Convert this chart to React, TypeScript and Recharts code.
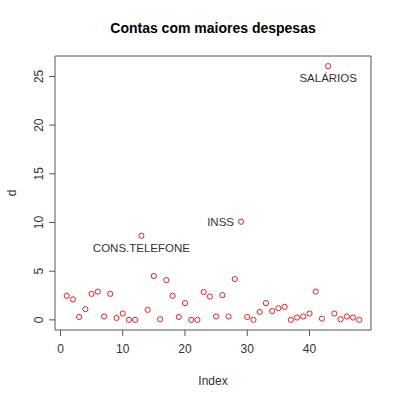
import React from 'react';
import { ScatterChart, Scatter, XAxis, YAxis, ReferenceArea } from 'recharts';

// valores (d), em ordem de indice
const despesas = [
  2.47, 2.1, 0.3, 1.1, 2.67, 2.9, 0.35, 2.67, 0.2, 0.65,
  0, 0, 8.64, 1.03, 4.5, 0.07, 4.08, 2.47, 0.3, 1.72,
  0, 0, 2.85, 2.4, 0.35, 2.54, 0.35, 4.19, 10.08, 0.3,
  0, 0.82, 1.72, 0.9, 1.2, 1.34, 0, 0.24, 0.35, 0.65,
  2.9, 0.13, 26.06, 0.65, 0.07, 0.35, 0.24, 0,
];

// contas destacadas
const destaqueIndices = [13, 29, 43];
const destaqueNomes = ['CONS.TELEFONE', 'INSS', 'SALÁRIOS'];

const xTicks = [0, 10, 20, 30, 40];
const yTicks = [0, 5, 10, 15, 20, 25];

const xDomain: [number, number] = [-0.88, 49.88];
const yDomain: [number, number] = [-1.04, 27.1];

const FONT = '"Liberation Sans", Arial, sans-serif';
const RED = '#e02020';

const data = despesas.map((d, i) => {
  const k = destaqueIndices.indexOf(i + 1);
  return { index: i + 1, d, nome: k >= 0 ? destaqueNomes[k] : '' };
});

const PointShape = (props: any) => {
  const { cx, cy, payload } = props;
  let label = null;
  if (payload.nome) {
    if (payload.nome === 'INSS') {
      label = (
        <text x={cx - 7} y={cy} textAnchor="end" dominantBaseline="central" fontSize={11.5} fill="#333" fontFamily={FONT}>
          {payload.nome}
        </text>
      );
    } else {
      label = (
        <text x={cx} y={cy + 12} textAnchor="middle" dominantBaseline="central" fontSize={11.5} fill="#333" fontFamily={FONT}>
          {payload.nome}
        </text>
      );
    }
  }
  return (
    <g>
      <circle cx={cx} cy={cy} r={2.6} fill="none" stroke={RED} strokeWidth={1} />
      {label}
    </g>
  );
};

const YTick = (props: any) => {
  const { x, y, payload } = props;
  return (
    <text transform={`translate(${x - 4},${y}) rotate(-90)`} textAnchor="middle" fontSize={12} fill="#333" fontFamily={FONT}>
      {payload.value}
    </text>
  );
};

const App: React.FC = () => {
  return (
    <div style={{ position: 'absolute', left: 0, top: 0, width: 400, height: 399, background: '#fff' }}>
      <div
        style={{
          position: 'absolute', left: 55, width: 316, top: 19, textAlign: 'center',
          fontFamily: FONT, fontWeight: 'bold', fontSize: 14, color: '#000', lineHeight: '18px',
        }}
      >
        Contas com maiores despesas
      </div>
      <ScatterChart width={400} height={399} margin={{ top: 56, right: 29, left: 0, bottom: 0 }}>
        <XAxis
          type="number"
          dataKey="index"
          domain={xDomain}
          ticks={xTicks}
          allowDataOverflow
          axisLine={false}
          tickSize={6}
          tickMargin={8}
          tickLine={{ stroke: '#555' }}
          tick={{ fontSize: 12, fill: '#333', fontFamily: FONT }}
          height={69}
          label={{ value: 'Index', position: 'insideBottom', offset: 14, fontSize: 12, fill: '#333', fontFamily: FONT }}
        />
        <YAxis
          type="number"
          dataKey="d"
          domain={yDomain}
          ticks={yTicks}
          allowDataOverflow
          axisLine={false}
          tickSize={6}
          tickMargin={2}
          tickLine={{ stroke: '#555' }}
          tick={<YTick />}
          width={55}
          label={{
            content: () => (
              <text transform="translate(16,193) rotate(-90)" textAnchor="middle" fontSize={12} fill="#333" fontFamily={FONT}>
                d
              </text>
            ),
          }}
        />
        <ReferenceArea
          x1={xDomain[0]}
          x2={xDomain[1]}
          y1={yDomain[0]}
          y2={yDomain[1]}
          fill="none"
          stroke="#555"
          strokeWidth={1}
          ifOverflow="visible"
        />
        <Scatter data={data} shape={<PointShape />} isAnimationActive={false} />
      </ScatterChart>
    </div>
  );
};

export default App;
